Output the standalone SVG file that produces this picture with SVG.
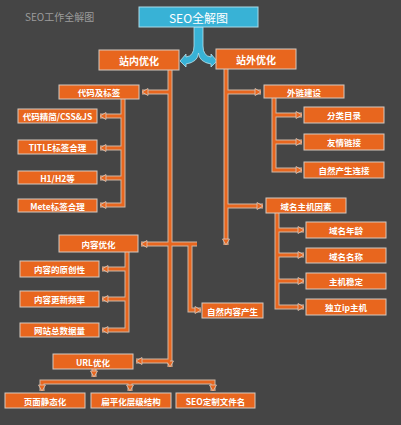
<svg xmlns="http://www.w3.org/2000/svg" xmlns:xlink="http://www.w3.org/1999/xlink" width="401" height="425" viewBox="0 0 401 425">
<style>
.b{fill:#e8661e;stroke:#d6c9bf;stroke-width:1}
.t{fill:#ffffff;font-family:"Noto Sans CJK SC","Liberation Sans",sans-serif;font-size:8.5px;font-weight:bold;text-anchor:middle;dominant-baseline:central}
.big{font-size:10px}
.ttl{fill:#9c9c9c;font-family:"Noto Sans CJK SC","Liberation Sans",sans-serif;font-size:10px}
</style>
<defs>
<marker id="ah" markerUnits="userSpaceOnUse" markerWidth="10" markerHeight="10" refX="6" refY="4" orient="auto" overflow="visible">
<path d="M0,0.5 L6,4 L0,7.5 Z" fill="#e8661e" stroke="#d6c9bf" stroke-width="0.8"/>
</marker>
<g id="lines" fill="none">
<path d="M170,70 V367"/>
<path d="M170,92 H142"/>
<path d="M170,361 H136"/>
<path d="M226,69 V245"/>
<path d="M226,92 H261"/>
<path d="M226,206 H263"/>
<path d="M123,99 V205 H100"/>
<path d="M123,116 H100"/>
<path d="M123,148 H100"/>
<path d="M123,178 H100"/>
<path d="M197,244 H141"/>
<path d="M190,244 V310 H201"/>
<path d="M127,252 V330 H102"/>
<path d="M127,269 H102"/>
<path d="M127,299 H102"/>
<path d="M274,98 V170 H302"/>
<path d="M274,115 H302"/>
<path d="M274,142 H302"/>
<path d="M277,213 V307 H304"/>
<path d="M277,230 H304"/>
<path d="M277,255 H304"/>
<path d="M277,281 H304"/>
<path d="M94,369 V377"/>
<path d="M130,382 H42 V391"/>
<path d="M130,382 V391"/>
<path d="M130,382 H213 V391"/>
</g>
</defs>
<rect width="401" height="425" fill="#454545"/>
<text class="ttl" x="25" y="21">SEO工作全解图</text>
<g id="connectors">
<use href="#lines" stroke="#cdb7a6" stroke-width="5"/>
<use href="#lines" stroke="#e8661e" stroke-width="3" marker-end="url(#ah)"/>
<path d="M194,27 L203,27 L203,46 Q203,56 211,57 L211,54 L217,61 L211,67 L211,64 Q199,62 198.5,53 Q198,62 186,64 L186,67 L180,61 L186,54 L186,57 Q194,56 194,46 Z" fill="#38b2d6" stroke="#b9e2ee" stroke-width="0.8"/>
</g>
<g id="n-root"><rect x="139" y="7" width="119" height="20" fill="#38b2d6" stroke="#a9dbe9" stroke-width="1"/><text class="t" x="198.5" y="17.5" style="font-size:12px;font-weight:normal">SEO全解图</text></g>
<g id="n-zn"><rect class="b" x="99" y="50" width="80" height="20"/><text class="t big" x="139" y="60">站内优化</text></g>
<g id="n-zw"><rect class="b" x="216" y="49" width="80" height="20"/><text class="t big" x="256" y="59">站外优化</text></g>
<g id="n-dm"><rect class="b" x="59" y="85" width="80" height="14"/><text class="t" x="99" y="92">代码及标签</text></g>
<g id="n-dmjj"><rect class="b" x="18" y="109" width="79" height="14"/><text class="t" x="57.5" y="116">代码精简/CSS&amp;JS</text></g>
<g id="n-title"><rect class="b" x="18" y="140" width="79" height="14"/><text class="t" x="57.5" y="147">TITLE标签合理</text></g>
<g id="n-h1"><rect class="b" x="18" y="171" width="79" height="13"/><text class="t" x="57.5" y="177.5">H1/H2等</text></g>
<g id="n-meta"><rect class="b" x="18" y="199" width="79" height="13"/><text class="t" x="57.5" y="205.5">Mete标签合理</text></g>
<g id="n-nr"><rect class="b" x="59" y="235" width="79" height="17"/><text class="t" x="98.5" y="243.5">内容优化</text></g>
<g id="n-yc"><rect class="b" x="20" y="261" width="79" height="16"/><text class="t" x="59.5" y="269">内容的原创性</text></g>
<g id="n-gx"><rect class="b" x="20" y="291" width="79" height="16"/><text class="t" x="59.5" y="299">内容更新频率</text></g>
<g id="n-sj"><rect class="b" x="20" y="323" width="79" height="14"/><text class="t" x="59.5" y="330">网站总数据量</text></g>
<g id="n-zr"><rect class="b" x="202" y="303" width="61" height="15"/><text class="t" x="232.5" y="310.5">自然内容产生</text></g>
<g id="n-url"><rect class="b" x="53" y="354" width="80" height="15"/><text class="t" x="93" y="361.5">URL优化</text></g>
<g id="n-jt"><rect class="b" x="5" y="393" width="80" height="15"/><text class="t" x="45" y="400.5">页面静态化</text></g>
<g id="n-bp"><rect class="b" x="91" y="393" width="80" height="15"/><text class="t" x="131" y="400.5">扁平化层级结构</text></g>
<g id="n-wj"><rect class="b" x="176" y="393" width="79" height="15"/><text class="t" x="215.5" y="400.5">SEO定制文件名</text></g>
<g id="n-wl"><rect class="b" x="264" y="85" width="80" height="13"/><text class="t" x="304" y="91.5">外链建设</text></g>
<g id="n-fl"><rect class="b" x="304" y="107" width="80" height="16"/><text class="t" x="344" y="115">分类目录</text></g>
<g id="n-yq"><rect class="b" x="304" y="134" width="80" height="16"/><text class="t" x="344" y="142">友情链接</text></g>
<g id="n-zrlj"><rect class="b" x="304" y="162" width="80" height="16"/><text class="t" x="344" y="170">自然产生连接</text></g>
<g id="n-ym"><rect class="b" x="266" y="198" width="80" height="15"/><text class="t" x="306" y="205.5">域名主机因素</text></g>
<g id="n-nl"><rect class="b" x="306" y="222" width="80" height="16"/><text class="t" x="346" y="230">域名年龄</text></g>
<g id="n-mc"><rect class="b" x="306" y="248" width="80" height="15"/><text class="t" x="346" y="255.5">域名名称</text></g>
<g id="n-wd"><rect class="b" x="306" y="273" width="80" height="16"/><text class="t" x="346" y="281">主机稳定</text></g>
<g id="n-ip"><rect class="b" x="306" y="299" width="80" height="16"/><text class="t" x="346" y="307">独立ip主机</text></g>
</svg>
